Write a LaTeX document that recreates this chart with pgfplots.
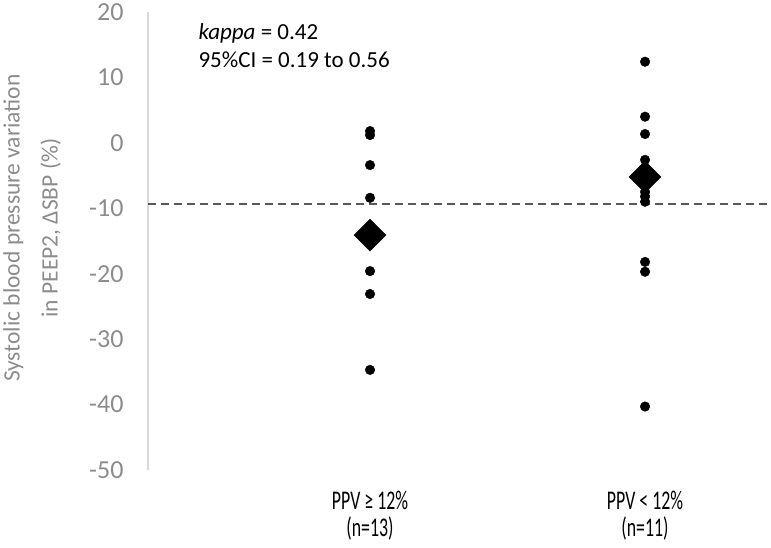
\documentclass[border=0pt]{standalone}
\usepackage{pgfplots}
\pgfplotsset{compat=1.18}
\usepackage{fontspec}
\setmainfont{Carlito}
\definecolor{tickgray}{HTML}{8C8C8C}
\definecolor{axgray}{HTML}{D9D9D9}
\definecolor{dashgray}{HTML}{595959}
\begin{document}
\begin{tikzpicture}
\useasboundingbox (0pt,0pt) rectangle (771pt,548pt);
\begin{axis}[
 at={(148pt,78pt)}, anchor=south west,
 scale only axis, width=623pt, height=458pt,
 xmin=0.1927, xmax=2.458, ymin=-50, ymax=20,
 axis y line*=left, axis x line*=bottom,
 x axis line style={draw=none},
 y axis line style={draw=axgray, line width=2pt},
 ytick={-50,-40,...,20},
 xtick={1,2},
 xticklabels={{\scalebox{0.66}[1]{PPV ≥ 12\%}\\\scalebox{0.66}[1]{(n=13)}},{\scalebox{0.66}[1]{PPV < 12\%}\\\scalebox{0.66}[1]{(n=11)}}},
 major tick length=0pt,
 tick style={draw=none},
 /pgf/number format/assume math mode=true,
 yticklabel style={font=\fontsize{26}{30}\selectfont, text=tickgray, xshift=-21pt},
 xticklabel style={align=center, font=\fontsize{27}{27}\selectfont, text=black, yshift=-18pt},
 ylabel={Systolic blood pressure variation\\in PEEP2, ΔSBP (\%)},
 ylabel style={at={(axis description cs:-0.186,0.528)}, anchor=center, align=center, text=tickgray, font=\fontsize{23.5}{38}\selectfont},
 clip=false,
]
\addplot[dashgray, line width=2pt, dash pattern=on 8pt off 5pt] coordinates {(0.1927,-9.3) (2.447,-9.3)};
\addplot[only marks, mark=*, mark size=4.8pt, black] coordinates {
 (1,1.8) (1,1.2) (1,-3.4) (1,-8.4) (1,-19.6) (1,-23.1) (1,-34.7)
 (2,12.4) (2,4.0) (2,1.35) (2,-2.6) (2,-7.5) (2,-8.2) (2,-9.0) (2,-18.2) (2,-19.7) (2,-40.3)
};
\addplot[only marks, mark=diamond*, mark size=16pt, mark options={xscale=1.33}, black] coordinates {(1,-14.1) (2,-5.2)};
\node[anchor=base west, font=\fontsize{23}{27}\selectfont] at (axis cs:0.3636,15.72) {\textit{kappa} = 0.42};
\node[anchor=base west, font=\fontsize{23}{27}\selectfont] at (axis cs:0.3636,11.59) {95\%CI = 0.19 to 0.56};
\end{axis}
\end{tikzpicture}
\end{document}
